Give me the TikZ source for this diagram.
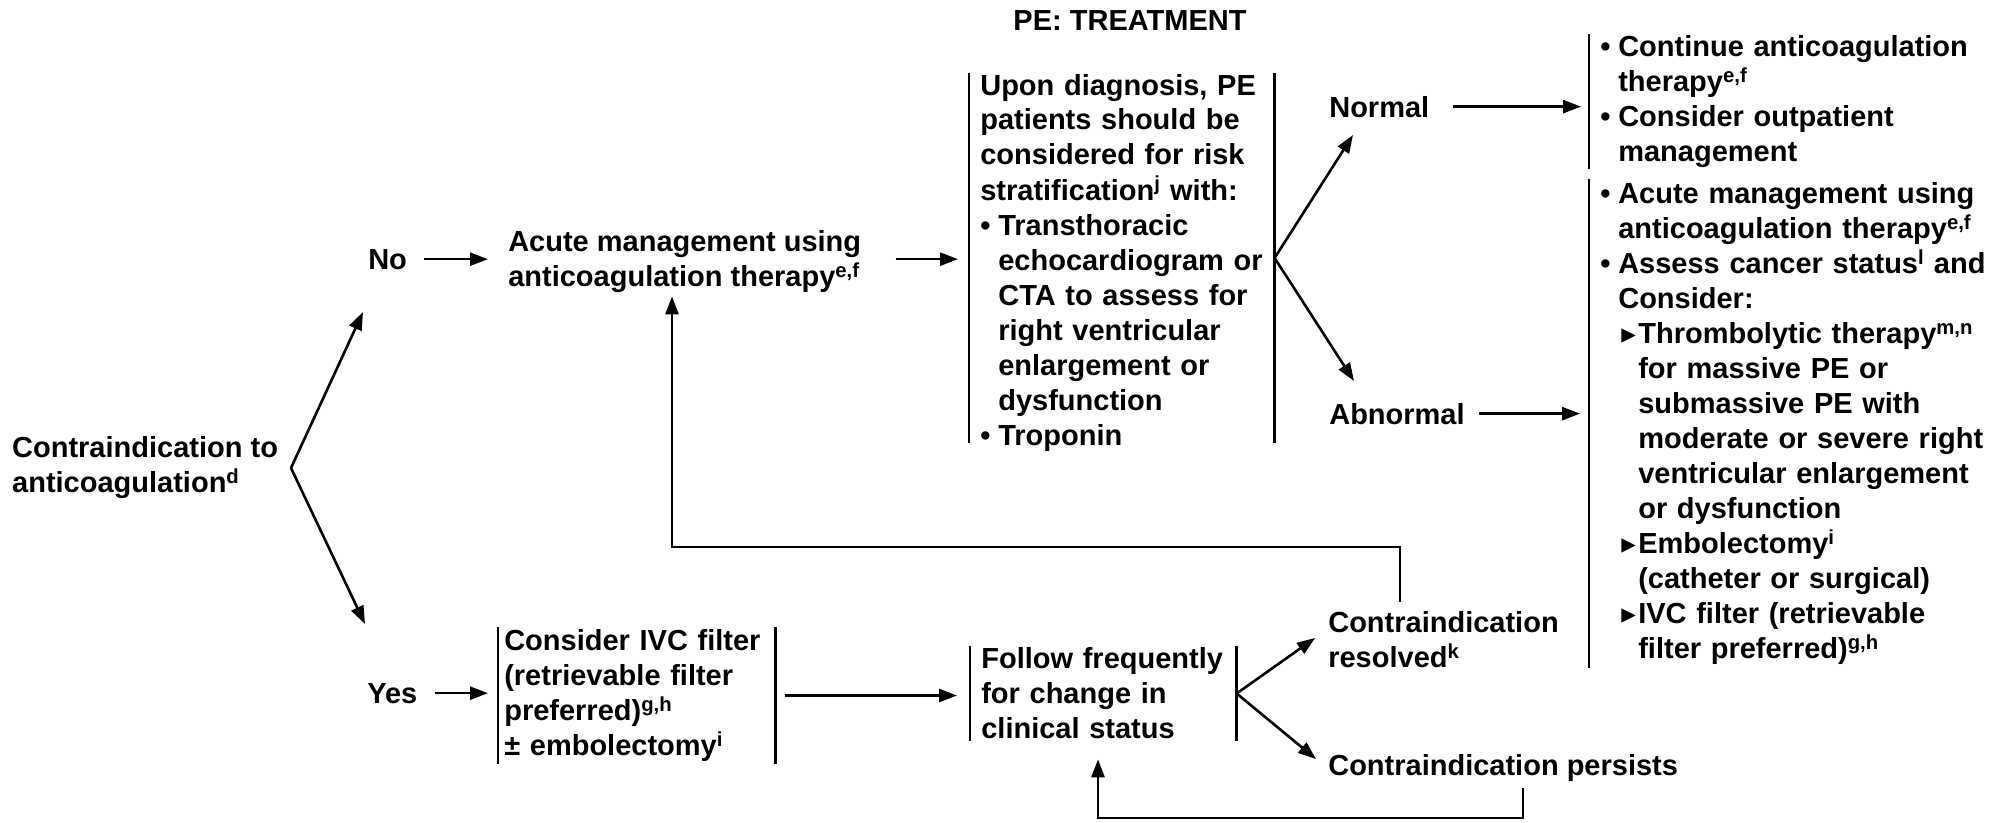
\documentclass[tikz,border=0pt]{standalone}
\usepackage{fontspec}
\setmainfont{Liberation Sans}
\newfontfamily\symfont{DejaVu Sans}
\usetikzlibrary{arrows.meta}
\hyphenpenalty=10000
\newcommand{\bul}{\makebox[18pt][l]{•}}
\newcommand{\ind}{\hspace*{18pt}}
\newcommand{\tri}{\makebox[20pt][l]{\hspace{3pt}{\symfont ▸}}}
\newcommand{\indd}{\hspace*{38pt}}

\begin{document}
\begin{tikzpicture}[x=1pt, y=-1pt, line width=2.6pt,
  every node/.style={font=\fontsize{29}{35}\selectfont\bfseries, inner sep=0pt},
  lbl/.style={align=left},
  brk/.style={align=left, inner xsep=10pt, text width=#1},
  arr/.style={-{Triangle[length=18pt,width=13pt]}}]
  \useasboundingbox (0,0) rectangle (2001,822);

  % left column
  \node[lbl, anchor=east, outer xsep=13pt] (contra) at (291,468) {Contraindication to\\anticoagulation\textsuperscript{d}};
  \node[anchor=base west] (no) at (367,269) {No};
  \node[anchor=base west] (yes) at (366,703) {Yes};
  \coordinate (noin) at (363,312);
  \coordinate (yesin) at (365,624);

  % top row
  \node[anchor=base] (title) at (1130,30) {PE: TREATMENT};
  \node[lbl, anchor=west] (acute) at (507,262) {Acute management using\\anticoagulation therapy\textsuperscript{e,f}};
  \node[brk=283pt, anchor=west] (mid) at (969,262.5)
    {Upon diagnosis, PE\\patients should be\\considered for risk\\stratification\textsuperscript{j} with:\\
     \bul Transthoracic\\\ind echocardiogram or\\\ind CTA to assess for\\\ind right ventricular\\
     \ind enlargement or\\\ind dysfunction\\\bul Troponin};
  \node[anchor=base west] (normal) at (1328,117) {Normal};
  \node[anchor=base west] (abnormal) at (1328,424) {Abnormal};
  \coordinate (normin) at (1353,135);
  \coordinate (abnin) at (1354,381);
  \node[brk=390pt, minimum height=123pt, anchor=west] (normbox) at (1589,101.5)
    {\bul Continue anticoagulation\\\ind therapy\textsuperscript{e,f}\\\bul Consider outpatient\\\ind management};
  \node[brk=390pt, minimum height=487pt, anchor=west] (abnbox) at (1589,423.5)
    {\bul Acute management using\\\ind anticoagulation therapy\textsuperscript{e,f}\\
     \bul Assess cancer status\textsuperscript{l} and\\\ind Consider:\\
     \ind\tri Thrombolytic therapy\textsuperscript{m,n}\\\indd for massive PE or\\\indd submassive PE with\\
     \indd moderate or severe right\\\indd ventricular enlargement\\\indd or dysfunction\\
     \ind\tri Embolectomy\textsuperscript{i}\\\indd (catheter or surgical)\\
     \ind\tri IVC filter (retrievable\\\indd filter preferred)\textsuperscript{g,h}};

  % bottom row
  \node[brk=265pt, inner xsep=5pt, minimum height=135pt, anchor=west] (ivc) at (498,695.5)
    {Consider IVC filter\\(retrievable filter\\preferred)\textsuperscript{g,h}\\\textpm\ embolectomy\textsuperscript{i}};
  \node[brk=244pt, minimum height=93pt, anchor=west] (follow) at (970,693.5)
    {Follow frequently\\for change in\\clinical status};
  \node[lbl, anchor=west] (resolved) at (1327,640) {Contraindication\\resolved\textsuperscript{k}};
  \node[anchor=base west] (persists) at (1327,775) {Contraindication persists};
  \coordinate (resin) at (1315,638);
  \coordinate (perin) at (1316,759);

  % loop corners
  \coordinate (fbr) at (1400,547);
  \coordinate (fbl) at (672,547);
  \coordinate (fpr) at (1523,818);
  \coordinate (fpl) at (1098,818);

  % side bars
  \draw (mid.north west) -- ([yshift=9pt]mid.south west) (mid.north east) -- ([yshift=9pt]mid.south east);
  \foreach \n in {ivc,follow}
    \draw (\n.north west) -- (\n.south west) (\n.north east) -- (\n.south east);
  \foreach \n in {normbox,abnbox}
    \draw (\n.north west) -- (\n.south west);

  % arrows
  \draw[arr] (contra.east) -- (noin);
  \draw[arr] (contra.east) -- (yesin);
  \draw[arr, shorten <=16pt, shorten >=19pt] (no.east) -- (no.east -| acute.west);
  \draw[arr, shorten <=16pt, shorten >=10pt] (yes.east) -- (yes.east -| ivc.west);
  \draw[arr, shorten <=33pt, shorten >=11pt] (acute.east |- no.east) -- (no.east -| mid.west);
  \draw[arr] ([yshift=4.5pt]mid.east) -- (normin);
  \draw[arr] ([yshift=4.5pt]mid.east) -- (abnin);
  \draw[arr, shorten <=22pt, shorten >=8pt] (normal.east) -- (normal.east -| normbox.west);
  \draw[arr, shorten <=13pt, shorten >=9pt] (abnormal.east) -- (abnormal.east -| abnbox.west);
  \draw[arr, shorten <=9pt, shorten >=13pt] (ivc.east) -- (ivc.east -| follow.west);
  \draw[arr] (follow.east) -- (resin);
  \draw[arr] (follow.east) -- (perin);
  \draw[arr, shorten <=9pt, shorten >=2pt] (resolved.north -| fbr) -- (fbr) -- (fbl) -- (acute.south -| fbl);
  \draw[arr, shorten <=6pt, shorten >=18pt] (persists.south -| fpr) -- (fpr) -- (fpl) -- (follow.south -| fpl);
\end{tikzpicture}
\end{document}
